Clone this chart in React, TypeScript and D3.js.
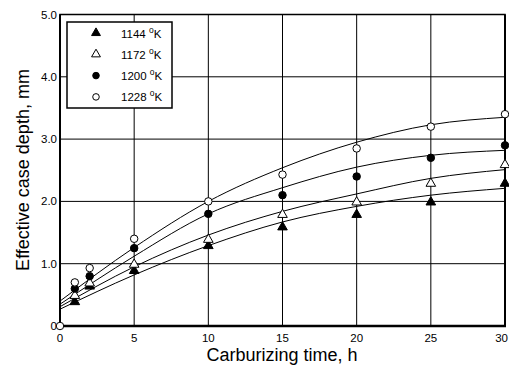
import * as d3 from 'd3'
import { useEffect, useRef } from 'react';

// measured points (time in h, depth in mm)
const times = [1, 2, 5, 10, 15, 20, 25, 30];
const depth1144 = [0.4, 0.65, 0.9, 1.3, 1.6, 1.8, 2.0, 2.3];
const depth1172 = [0.5, 0.7, 1.0, 1.4, 1.8, 2.0, 2.3, 2.6];
const depth1200 = [0.6, 0.8, 1.25, 1.8, 2.1, 2.4, 2.7, 2.9];
const depth1228 = [0.7, 0.93, 1.4, 2.0, 2.43, 2.85, 3.2, 3.4];

// fitted curves
const fitTimes = [0, 5, 10, 15, 20, 25, 30];
const fit1144 = [0.27, 0.82, 1.29, 1.67, 1.92, 2.1, 2.21];
const fit1172 = [0.31, 0.95, 1.46, 1.84, 2.12, 2.37, 2.51];
const fit1200 = [0.35, 1.12, 1.8, 2.22, 2.55, 2.74, 2.82];
const fit1228 = [0.4, 1.26, 2.0, 2.54, 2.95, 3.23, 3.35];

const xTicks = [0, 5, 10, 15, 20, 25, 30];
const yTicks = [0, 1, 2, 3, 4, 5];
const temps = ["1144", "1172", "1200", "1228"];

function drawChart(svgEl: SVGSVGElement) {
    const svg = d3.select(svgEl);
    svg.selectAll("*").remove();

    const x = d3.scaleLinear().domain([0, 30]).range([60, 505]);
    const y = d3.scaleLinear().domain([0, 5]).range([326, 14.5]);
    const font = "'Liberation Sans', Arial, sans-serif";

    const series = [
        { t: temps[0], pts: depth1144, fit: fit1144, shape: d3.symbolTriangle, fill: "black" },
        { t: temps[1], pts: depth1172, fit: fit1172, shape: d3.symbolTriangle, fill: "white" },
        { t: temps[2], pts: depth1200, fit: fit1200, shape: d3.symbolCircle, fill: "black" },
        { t: temps[3], pts: depth1228, fit: fit1228, shape: d3.symbolCircle, fill: "white" },
    ];

    // grid
    const g = svg.append("g");
    g.selectAll(".vg").data(xTicks.slice(1, -1)).enter().append("line")
        .attr("x1", d => x(d)).attr("x2", d => x(d))
        .attr("y1", y(0)).attr("y2", y(5))
        .attr("stroke", "black").attr("stroke-width", 1);
    g.selectAll(".hg").data(yTicks.slice(1, -1)).enter().append("line")
        .attr("x1", x(0)).attr("x2", x(30))
        .attr("y1", d => y(d)).attr("y2", d => y(d))
        .attr("stroke", "black").attr("stroke-width", 1);

    // frame
    g.append("rect").attr("x", x(0)).attr("y", y(5))
        .attr("width", x(30) - x(0)).attr("height", y(0) - y(5))
        .attr("fill", "none").attr("stroke", "black").attr("stroke-width", 1.5);
    g.append("line").attr("x1", x(0) - 1).attr("x2", x(30) + 1)
        .attr("y1", y(0)).attr("y2", y(0)).attr("stroke", "black").attr("stroke-width", 2.5);
    g.append("line").attr("x1", x(0)).attr("x2", x(0))
        .attr("y1", y(0)).attr("y2", y(5)).attr("stroke", "black").attr("stroke-width", 2);
    g.append("line").attr("x1", x(30)).attr("x2", x(30))
        .attr("y1", y(0)).attr("y2", y(5)).attr("stroke", "black").attr("stroke-width", 2);

    // tick labels (last one kept inside the picture)
    g.selectAll(".xl").data(xTicks).enter().append("text")
        .attr("x", d => d === 30 ? 508 : x(d)).attr("y", 342)
        .attr("text-anchor", d => d === 30 ? "end" : "middle")
        .attr("font-family", font).attr("font-size", 11.5)
        .text(d => d);
    g.selectAll(".yl").data(yTicks).enter().append("text")
        .attr("x", 57).attr("y", d => y(d) + 4)
        .attr("text-anchor", "end").attr("font-family", font).attr("font-size", 11.5)
        .text(d => d === 0 ? "0" : d.toFixed(1));

    // axis titles
    g.append("text").attr("x", 282).attr("y", 361)
        .attr("text-anchor", "middle").attr("font-family", font).attr("font-size", 18)
        .text("Carburizing time, h");
    g.append("text").attr("transform", "translate(29,170) rotate(-90)")
        .attr("text-anchor", "middle").attr("font-family", font).attr("font-size", 18)
        .text("Effective case depth, mm");

    // fitted curves
    const line = d3.line<number>()
        .x((d, i) => x(fitTimes[i])).y(d => y(d))
        .curve(d3.curveMonotoneX);
    series.forEach(s => {
        g.append("path").attr("d", line(s.fit))
            .attr("fill", "none").attr("stroke", "black").attr("stroke-width", 1);
    });

    // markers
    series.forEach(s => {
        const sym = d3.symbol().type(s.shape).size(s.shape === d3.symbolCircle ? 44 : 40);
        g.selectAll(null).data(s.pts).enter().append("path")
            .attr("d", sym)
            .attr("transform", (d, i) => `translate(${x(times[i])},${y(d) + (s.shape === d3.symbolTriangle ? 0.8 : 0)})`)
            .attr("fill", s.fill).attr("stroke", "black").attr("stroke-width", 1);
    });
    // origin point
    g.append("path").attr("d", d3.symbol().type(d3.symbolCircle).size(44))
        .attr("transform", `translate(${x(0)},${y(0)})`)
        .attr("fill", "white").attr("stroke", "black").attr("stroke-width", 1);

    // legend
    const lg = g.append("g");
    lg.append("rect").attr("x", 67).attr("y", 22).attr("width", 105).attr("height", 86)
        .attr("fill", "white").attr("stroke", "black").attr("stroke-width", 1.5);
    series.forEach((s, i) => {
        const cy = 33 + i * 21.3;
        lg.append("path").attr("d", d3.symbol().type(s.shape).size(34))
            .attr("transform", `translate(96,${cy})`)
            .attr("fill", s.fill).attr("stroke", "black").attr("stroke-width", 1);
        const tx = lg.append("text").attr("x", 121).attr("y", cy + 4.5)
            .attr("font-family", font).attr("font-size", 11.5);
        tx.append("tspan").text(s.t + " ");
        tx.append("tspan").attr("font-size", 8.5).attr("dy", -5).text("o");
        tx.append("tspan").attr("dy", 5).text("K");
    });
}

function App() {
    const ref = useRef<SVGSVGElement>(null);
    useEffect(() => {
        document.body.style.margin = "0";
        if (ref.current) drawChart(ref.current);
    });

    return (
        <svg ref={ref} width="509" height="371" style={{ display: "block", background: "white" }}>
        </svg>
    );
}

export default App;
